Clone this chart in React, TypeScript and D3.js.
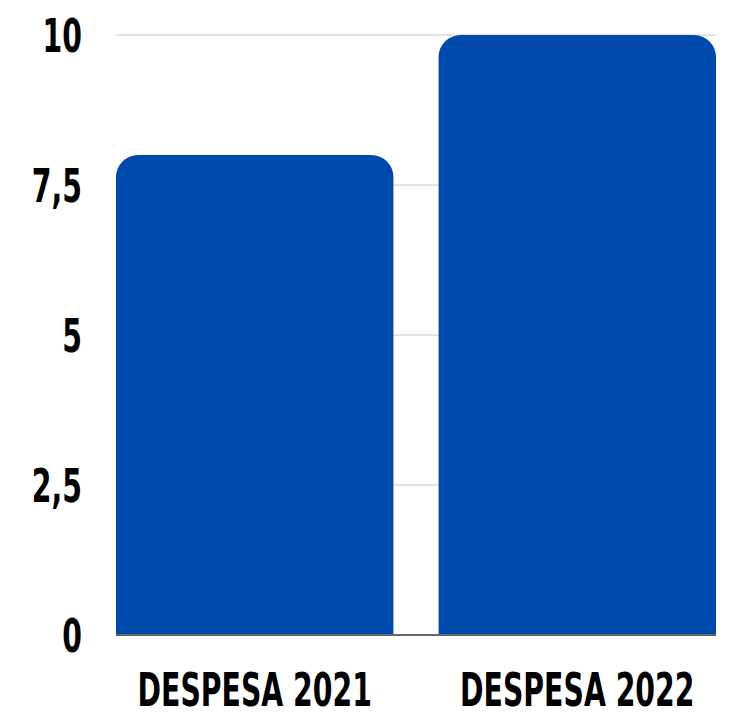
import React from "react";
import * as d3 from "d3";

const categories = ["DESPESA 2021", "DESPESA 2022"];
const values = [8, 10];
const yTicks = [0, 2.5, 5, 7.5, 10];
const yTickLabels = ["0", "2,5", "5", "7,5", "10"];

const W = 730, H = 715;
const margin = { left: 116, right: 14, top: 35, bottom: 80 };
const FONT = "'DejaVu Sans Condensed', 'DejaVu Sans', sans-serif";
const SX = 0.67;

function topRoundedRect(x: number, y: number, w: number, h: number, r: number) {
  const rr = Math.min(r, w / 2, h);
  return `M${x},${y + h}V${y + rr}A${rr},${rr} 0 0 1 ${x + rr},${y}H${x + w - rr}A${rr},${rr} 0 0 1 ${x + w},${y + rr}V${y + h}Z`;
}

export default function App() {
  const x = d3.scaleBand<string>().domain(categories).range([margin.left, W - margin.right]).paddingInner(0.14).paddingOuter(0);
  const y = d3.scaleLinear().domain([0, 10]).range([H - margin.bottom, margin.top]);
  return (
    <svg width={W} height={H} style={{ position: "absolute", left: 0, top: 0 }}>
      {yTicks.map((t, i) => (
        <g key={t}>
          {t !== 0 && (
            <line x1={margin.left} x2={W - margin.right} y1={y(t)} y2={y(t)} stroke="#c8c8c8" strokeWidth={1} />
          )}
          <text
            transform={`translate(82,${y(t) + 17}) scale(${SX},1)`}
            textAnchor="end"
            fontFamily={FONT}
            fontSize={47}
            fontWeight="bold"
            fill="#000"
          >
            {yTickLabels[i]}
          </text>
        </g>
      ))}
      {categories.map((c, i) => (
        <path
          key={c}
          d={topRoundedRect(x(c)!, y(values[i]), x.bandwidth(), y(0) - y(values[i]), 22)}
          fill="#004AAD"
        />
      ))}
      <line x1={margin.left} x2={W - margin.right} y1={y(0)} y2={y(0)} stroke="#666" strokeWidth={2} />
      {categories.map((c) => (
        <text
          key={c}
          transform={`translate(${x(c)! + x.bandwidth() / 2},706) scale(${SX},1)`}
          textAnchor="middle"
          fontFamily={FONT}
          fontSize={47}
          fontWeight="bold"
          fill="#000"
        >
          {c}
        </text>
      ))}
    </svg>
  );
}
